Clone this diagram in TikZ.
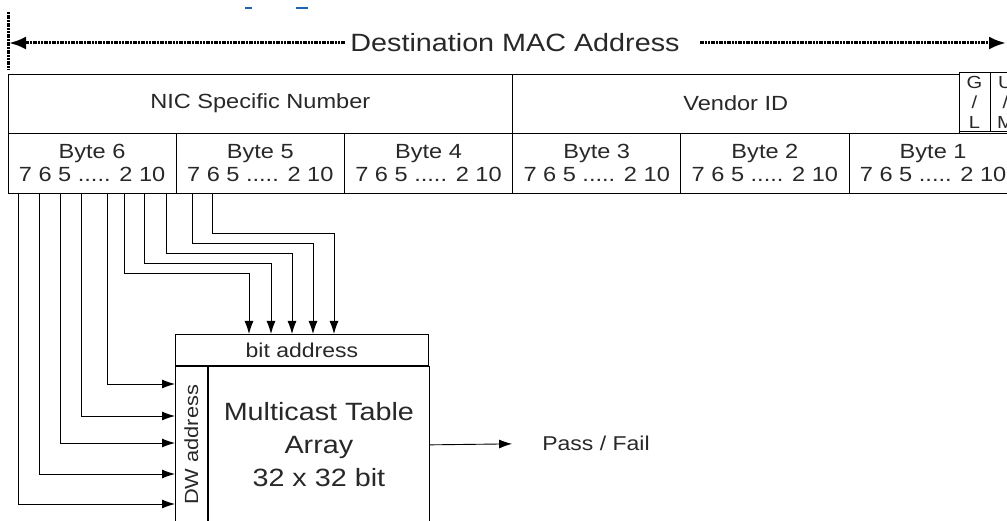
\documentclass[tikz,border=0pt]{standalone}
\usepackage{fontspec}
\setmainfont[FakeStretch=1.15]{Liberation Sans}
\usetikzlibrary{arrows.meta}
\definecolor{textgrey}{RGB}{40,40,40}
\definecolor{markblue}{RGB}{30,100,180}
\tikzset{cell/.style={draw,rectangle,inner sep=0pt,line width=0.9pt,text=textgrey,align=center},
  wire/.style={line width=0.9pt,-{Latex[length=13pt,width=9pt]}},
  span/.style={line width=3pt,dash pattern=on 2pt off 0.7pt,-{Latex[length=17pt,width=13pt]}}}

\begin{document}
\begin{tikzpicture}[x=1pt,y=-1pt]
      \useasboundingbox (0,0) rectangle (1007,521);
      \clip (0,0) rectangle (1007,521);
      \fill[markblue] (245,7) rectangle (252,9.5);
      \fill[markblue] (296,7) rectangle (308,9.5);

      \node[text=textgrey,inner sep=0pt,font=\fontsize{25}{30}\selectfont] (T) at (515,43) {Destination MAC Address};
      \coordinate (L) at (9,43);
      \coordinate (R) at (1006,43);
      \draw[line width=3pt,dash pattern=on 2pt off 0.7pt] (8.5,12) -- (8.5,70);
      \draw[span] ([xshift=-5pt]T.west) -- (L);
      \draw[span] ([xshift=20pt]T.east) -- (R);

      \node[cell,minimum width=504.6pt,minimum height=59pt,font=\fontsize{20.5}{23}\selectfont] (NIC) at (260.3,103.5) {NIC Specific Number};
      \node[cell,minimum width=446.4pt,minimum height=59pt,font=\fontsize{20.5}{23}\selectfont] (VID) at (735.8,103.5) {Vendor ID};
      \node[cell,minimum width=31pt,minimum height=59pt,font=\fontsize{17.5}{20}\selectfont] (GL) at (974.5,102) {G\\/\\L};
      \node[cell,minimum width=31pt,minimum height=59pt,font=\fontsize{17.5}{20}\selectfont] (UM) at (1005.5,102) {U\\/\\M};

      \foreach \n [count=\i from 0] in {6,5,4,3,2,1}
        \node[cell,minimum width=168.2pt,minimum height=60pt,font=\fontsize{20.5}{23}\selectfont] (B\n) at (92.1+168.2*\i,163) {Byte \n\\7 6 5 ..... 2 10};

      \node[cell,minimum width=253pt,minimum height=31pt,anchor=north west,font=\fontsize{20}{24}\selectfont] (BA) at (175,334) {bit address};
      \node[cell,minimum width=32pt,minimum height=157pt,anchor=north west] (DW) at (BA.south west) {};
      \node[text=textgrey,rotate=90,inner sep=0pt,font=\fontsize{19}{22}\selectfont] (DWL) at (DW) {DW address};
      \node[cell,minimum width=221pt,minimum height=157pt,anchor=north west,font=\fontsize{25}{33}\selectfont] (MT) at (DW.north east) {Multicast Table\\Array\\32 x 32 bit};
      \node[text=textgrey,inner sep=0pt,font=\fontsize{20}{24}\selectfont] (PF) at (596,443.5) {Pass / Fail};
      \draw[wire,shorten >=30pt] (MT.east) -- (PF.west);

      \foreach \x/\y [count=\i] in {18/504,39/474,60/443,81/416,107/384} {
        \coordinate (D\i) at (\x,193);
        \draw[wire] (D\i) |- (DW.west |- 0,\y);
      }
      \foreach \x/\y/\bx [count=\i] in {124/273/249,144/263/271,166/253/292,192/243/313,212/233/334} {
        \coordinate (A\i) at (\x,193);
        \draw[wire] (A\i) |- (\bx,\y) -- (\bx,\y |- BA.north);
      }
    \end{tikzpicture}
\end{document}
